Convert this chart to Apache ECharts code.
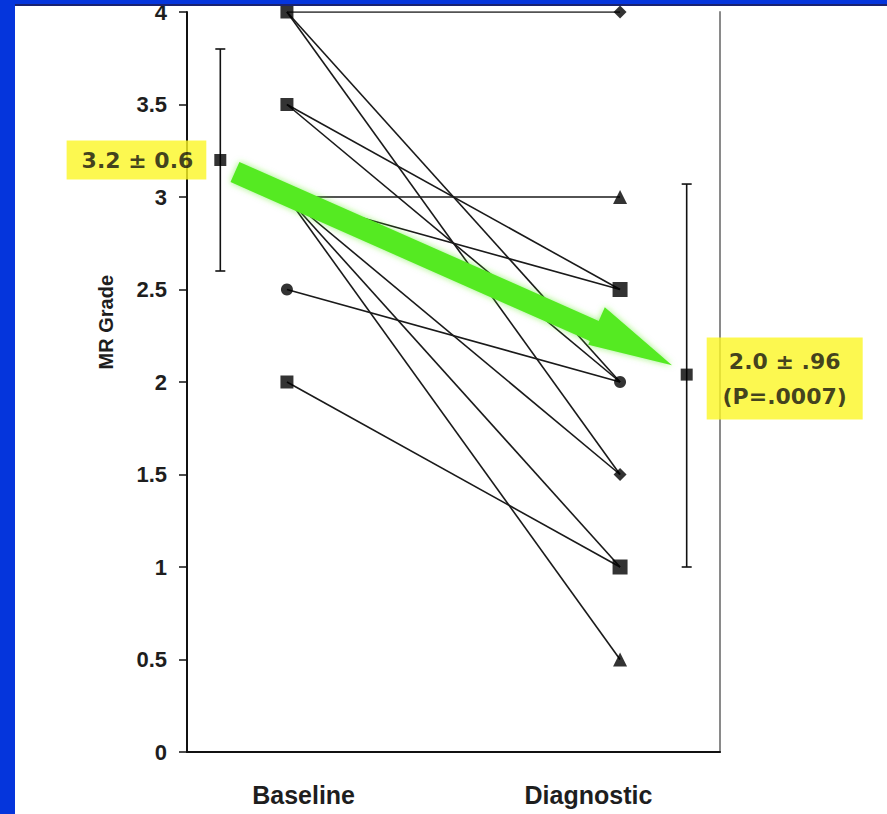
<!DOCTYPE html>
<html>
<head>
<meta charset="utf-8">
<script src="https://cdn.jsdelivr.net/npm/echarts@6/dist/echarts.min.js"></script>
<style>
  html, body { margin: 0; padding: 0; background: #fff; }
  #chart { width: 887px; height: 814px; }
</style>
</head>
<body>
<div id="chart"></div>
<script>
// MR grade for each patient, baseline -> diagnostic
const baseline   = [4, 4, 4, 3.5, 3.5, 3, 3, 3, 3, 3, 2.5, 2];
const diagnostic = [4, 2, 1.5, 2.5, 2, 3, 2.5, 1.5, 1, 0.5, 2, 1];

// marker shape used at each grade level
const baselineLevels = [4, 3.5, 3, 2.5, 2];
const baselineShapes = ['rect', 'rect', 'rect', 'circle', 'rect'];
const diagLevels = [4, 3, 2.5, 2, 1.5, 1, 0.5];
const diagShapes = ['diamond', 'triangle', 'rect', 'circle', 'diamond', 'rect', 'triangle'];

// [mean, low, high] as drawn
const baselineStat = [3.2, 2.6, 3.8];
const diagStat = [2.04, 1.0, 3.07];
const statLabels = ['3.2 ± 0.6', '2.0 ± .96', '(P=.0007)'];

const categories = ['Baseline', 'Diagnostic'];
const yMin = 0, yMax = 4, yStep = 0.5;

// x positions on a 0..16 value axis
const X_BASE = 3, X_DIAG = 13, X_BASE_ERR = 1, X_DIAG_ERR = 15;
const X_LABELS = [3.5, 12.05];
const ARROW = [1.44, 3.135, 14.56, 2.09];

const chart = echarts.init(document.getElementById('chart'), null, { renderer: 'svg' });

const sizeOf = s => ({ rect: 13, circle: 12, diamond: 13, triangle: 14 }[s]);

chart.setOption({
  backgroundColor: '#fff',
  animation: false,
  grid: { left: 187, right: 167, top: 12, bottom: 62 },
  xAxis: {
    type: 'value', min: 0, max: 16,
    splitLine: { show: false },
    axisTick: { show: false },
    axisLine: { lineStyle: { color: '#111', width: 2 } },
    axisLabel: {
      customValues: X_LABELS,
      margin: 30,
      fontFamily: 'Liberation Sans', fontWeight: 'bold', fontSize: 25, color: '#1e1e1e'
      , formatter: v => v < 8 ? categories[0] : categories[1]
    }
  },
  yAxis: [{
    type: 'value', min: yMin, max: yMax, interval: yStep,
    splitLine: { show: false },
    axisLine: { show: true, lineStyle: { color: '#111', width: 2 } },
    axisTick: { show: true, length: 8, lineStyle: { color: '#111', width: 1.5 } },
    axisLabel: {
      margin: 20, fontFamily: 'Liberation Sans', fontWeight: 'bold', fontSize: 22, color: '#1e1e1e'
    }
  }, {
    type: 'value', min: yMin, max: yMax, interval: yStep, position: 'right',
    splitLine: { show: false },
    axisLine: { show: true, lineStyle: { color: '#8a8a8a', width: 2 } },
    axisTick: { show: false },
    axisLabel: { show: false }
  }],
  graphic: [
    { type: 'text', left: 96, top: 275, rotation: Math.PI / 2,
      style: { text: 'MR Grade', font: 'bold 20px "Liberation Sans"', fill: '#1e1e1e' } },
    { type: 'rect', left: 0, top: 0, z: 100, shape: { width: 15, height: 814 }, style: { fill: '#0535dc' } },
    { type: 'rect', left: 0, top: 0, z: 100, shape: { width: 887, height: 4 }, style: { fill: '#0535dc' } },
    { type: 'rect', left: 15, top: 4, z: 100, shape: { width: 872, height: 2 }, style: { fill: '#1a2270' } }
  ],
  series: [
    {
      type: 'lines',
      coordinateSystem: 'cartesian2d',
      z: 2,
      lineStyle: { color: '#1a1a1a', width: 1.6, opacity: 1 },
      data: baseline.map((b, i) => ({ coords: [[X_BASE, b], [X_DIAG, diagnostic[i]]] }))
    },
    {
      type: 'scatter', z: 3,
      itemStyle: { color: '#000' },
      data: baselineLevels.map((v, i) => ({
        value: [X_BASE, v], symbol: baselineShapes[i], symbolSize: sizeOf(baselineShapes[i])
      }))
    },
    {
      type: 'scatter', z: 3,
      itemStyle: { color: '#000' },
      data: diagLevels.map((v, i) => ({
        value: [X_DIAG, v], symbol: diagShapes[i],
        symbolSize: diagShapes[i] === 'rect' ? 15 : sizeOf(diagShapes[i])
      }))
    },
    {
      // error bars
      type: 'custom', z: 3,
      data: [[X_BASE_ERR].concat(baselineStat), [X_DIAG_ERR].concat(diagStat)],
      renderItem: (params, api) => {
        const lo = api.coord([api.value(0), api.value(2)]);
        const hi = api.coord([api.value(0), api.value(3)]);
        const st = { stroke: '#111', lineWidth: 1.6 };
        return {
          type: 'group',
          children: [
            { type: 'line', shape: { x1: lo[0], y1: lo[1], x2: hi[0], y2: hi[1] }, style: st },
            { type: 'line', shape: { x1: lo[0] - 5, y1: lo[1], x2: lo[0] + 5, y2: lo[1] }, style: st },
            { type: 'line', shape: { x1: hi[0] - 5, y1: hi[1], x2: hi[0] + 5, y2: hi[1] }, style: st }
          ]
        };
      }
    },
    {
      type: 'scatter', z: 4,
      symbol: 'rect', symbolSize: 12,
      itemStyle: { color: '#000' },
      data: [
        {
          value: [X_BASE_ERR, baselineStat[0]],
          label: {
            show: true, position: 'left', distance: 8,
            formatter: statLabels[0],
            backgroundColor: '#fbf624', padding: [9, 13, 8, 15],
            fontFamily: 'DejaVu Sans', fontWeight: 'bold', fontSize: 22, color: '#111'
          }
        },
        {
          value: [X_DIAG_ERR, diagStat[0]],
          label: {
            show: true, position: 'right', distance: 14,
            offset: [0, 4],
            formatter: '{a|' + statLabels[1] + '}\n{a|' + statLabels[2] + '}',
            backgroundColor: '#fbf624', padding: [6, 12],
            rich: {
              a: { width: 132, align: 'center', lineHeight: 35,
                   fontFamily: 'DejaVu Sans', fontWeight: 'bold', fontSize: 22, color: '#111' }
            }
          }
        }
      ]
    },
    {
      // green trend arrow
      type: 'custom', z: 5,
      data: [ARROW],
      renderItem: (params, api) => {
        const a = api.coord([api.value(0), api.value(1)]);
        const b = api.coord([api.value(2), api.value(3)]);
        const dx = b[0] - a[0], dy = b[1] - a[1];
        const len = Math.hypot(dx, dy);
        const ux = dx / len, uy = dy / len, nx = -uy, ny = ux;
        const sw = 11, up = 26, down = 15, hl = 85;
        const hx = b[0] - ux * hl, hy = b[1] - uy * hl;
        const pts = [
          [a[0] - nx * sw, a[1] - ny * sw],
          [hx - nx * sw, hy - ny * sw],
          [hx - nx * up, hy - ny * up],
          b,
          [hx + nx * down, hy + ny * down],
          [hx + nx * sw, hy + ny * sw],
          [a[0] + nx * sw, a[1] + ny * sw]
        ];
        return {
          type: 'polygon',
          shape: { points: pts },
          style: { fill: '#55ea22', shadowBlur: 6, shadowColor: 'rgba(85,234,34,0.6)' }
        };
      }
    }
  ]
});
</script>
</body>
</html>
